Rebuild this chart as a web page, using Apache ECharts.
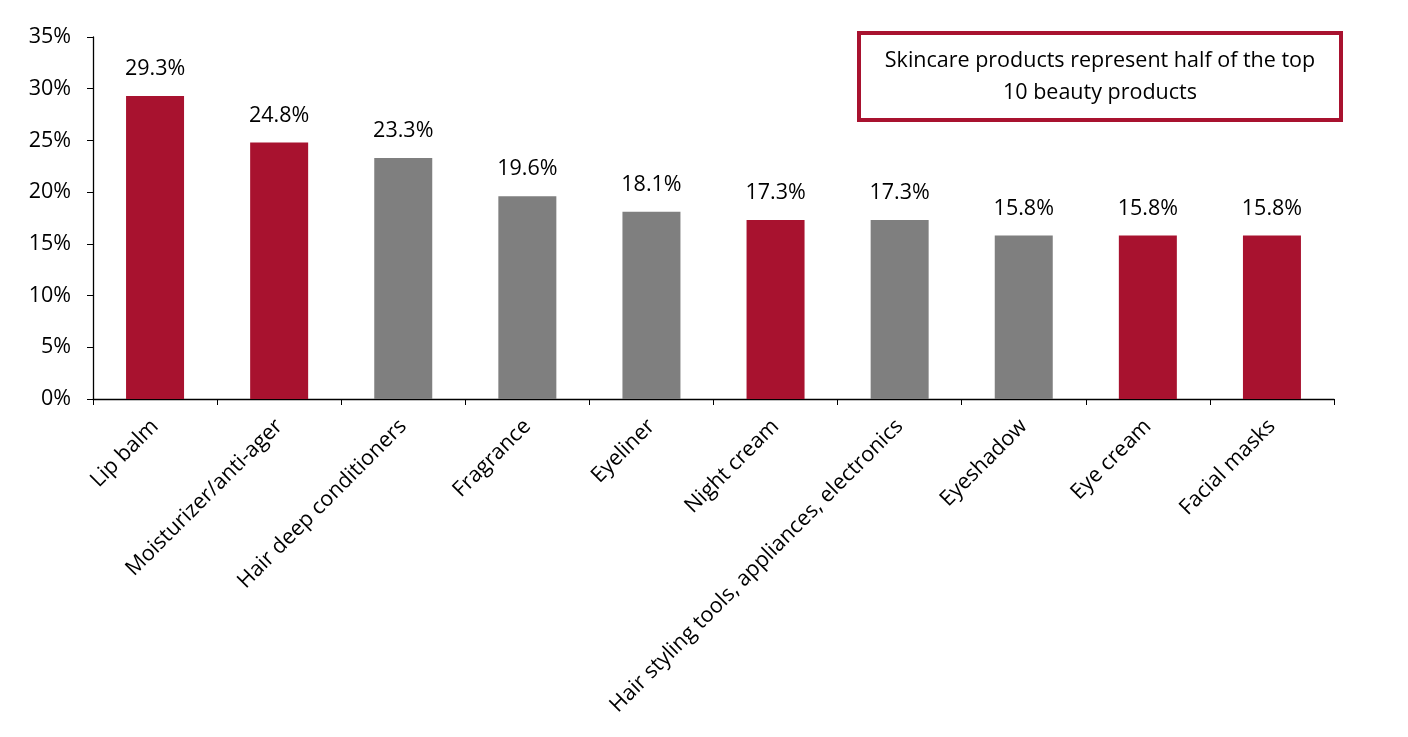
<!DOCTYPE html>
<html>
<head>
<meta charset="utf-8">
<script src="https://cdn.jsdelivr.net/npm/echarts@6/dist/echarts.min.js"></script>
<style>html,body{margin:0;padding:0;background:#fff}#c{width:1408px;height:737px}</style>
</head>
<body>
<div id="c"></div>
<script>
const categories = ["Lip balm","Moisturizer/anti-ager","Hair deep conditioners","Fragrance","Eyeliner","Night cream","Hair styling tools, appliances, electronics","Eyeshadow","Eye cream","Facial masks"];
const values = [29.3, 24.8, 23.3, 19.6, 18.1, 17.3, 17.3, 15.8, 15.8, 15.8];
const isSkincare = [true, true, false, false, false, true, false, false, true, true];
const yTicks = [0, 5, 10, 15, 20, 25, 30, 35];
const note = "Skincare products represent half of the top\n10 beauty products";

const RED = '#A8122F', GRAY = '#7F7F7F';
const FONT = '"Open Sans", Lato, sans-serif';
const FS = 21.5;
const chart = echarts.init(document.getElementById('c'));
chart.setOption({
  animation: false,
  textStyle: { fontFamily: FONT },
  grid: { left: 93, right: 74, top: 37, bottom: 338, containLabel: false },
  xAxis: {
    type: 'category', data: categories,
    axisLine: { lineStyle: { color: '#000', width: 1.3 } },
    axisTick: { show: true, length: 6, lineStyle: { color: '#000' }, alignWithLabel: false },
    axisLabel: { rotate: 45, interval: 0, color: '#000', fontSize: FS, fontFamily: FONT, margin: 24 }
  },
  yAxis: {
    type: 'value', min: yTicks[0], max: yTicks[yTicks.length-1], interval: 5,
    splitLine: { show: false },
    axisLine: { show: true, lineStyle: { color: '#000', width: 1.3 } },
    axisTick: { show: true, length: 6, lineStyle: { color: '#000' } },
    axisLabel: { formatter: v => v + '%', color: '#000', fontSize: FS, fontFamily: FONT, margin: 22 }
  },
  series: [{
    type: 'bar',
    barWidth: 58,
    data: values.map((v, i) => ({ value: v, itemStyle: { color: isSkincare[i] ? RED : GRAY } })),
    label: { show: true, position: 'top', distance: 16, color: '#000', fontSize: FS, fontFamily: FONT, formatter: p => p.value.toFixed(1) + '%' }
  }],
  graphic: [{
    type: 'group', left: 857, top: 31,
    children: [
      { type: 'rect', shape: { x: 2, y: 2, width: 482, height: 87 }, style: { fill: '#fff', stroke: RED, lineWidth: 4 } },
      { type: 'text', x: 243, y: 46, style: { text: note, align: 'center', verticalAlign: 'middle', fontSize: FS, lineHeight: 32, fontFamily: FONT, fill: '#000' } }
    ]
  }]
});
</script>
</body>
</html>
